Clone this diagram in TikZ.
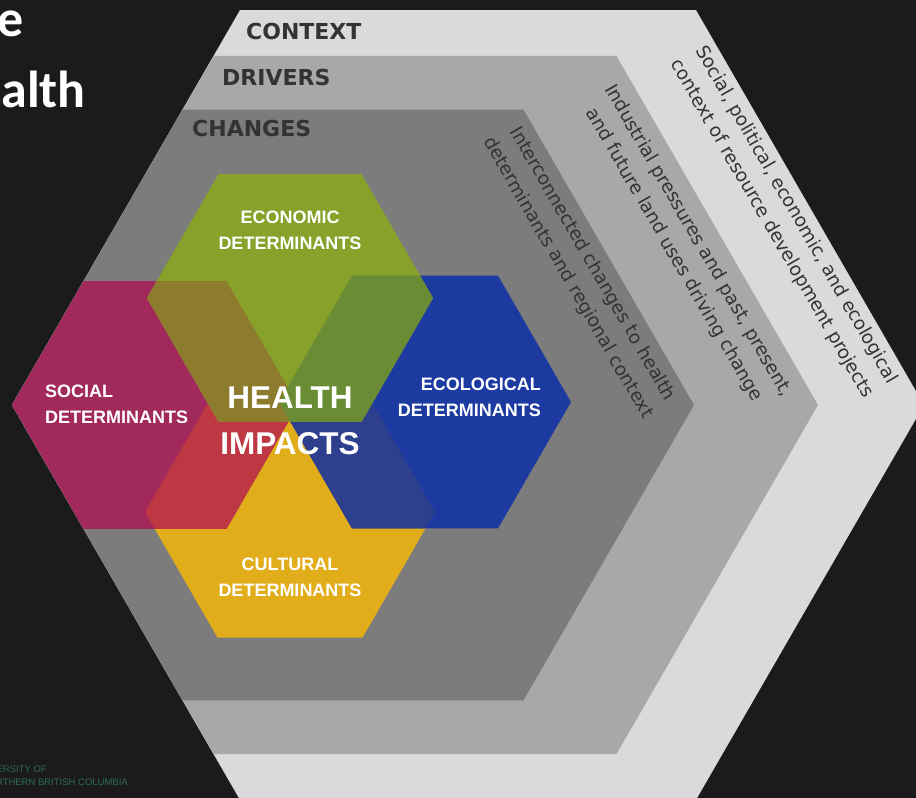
\documentclass[tikz,border=0pt]{standalone}
\usepackage{fontspec}
\setmainfont{DejaVu Sans}
\newfontfamily\hexfont{Liberation Sans}
\newfontfamily\titlefont{Carlito}
\definecolor{bgdark}{HTML}{1B1B1B}
\definecolor{ctxgray}{HTML}{DADADA}
\definecolor{drvgray}{HTML}{A8A8A8}
\definecolor{chggray}{HTML}{7C7C7C}
\definecolor{labelgray}{HTML}{333333}
\definecolor{socmag}{HTML}{A2295C}
\definecolor{econgreen}{HTML}{87A12A}
\definecolor{ecolblue}{HTML}{1D3AA0}
\definecolor{cultyellow}{HTML}{E2AD1A}
\definecolor{soceconmix}{HTML}{8E7C2E}
\definecolor{econecolmix}{HTML}{6A8C34}
\definecolor{soccultmix}{HTML}{BE3844}
\definecolor{ecolcultmix}{HTML}{2E3F8E}
\definecolor{unbcgreen}{HTML}{2D6B50}
\newcommand{\hexagon}[3]{(#1,#2) ++(0:#3) -- ++(120:#3) -- ++(180:#3) -- ++(240:#3) -- ++(300:#3) -- ++(0:#3) -- cycle}
\begin{document}
\begin{tikzpicture}[x=1pt,y=1pt,
    bandlabel/.style={font=\bfseries\fontsize{22}{26}\selectfont, text=labelgray, anchor=west},
    bandtext/.style={font=\fontsize{18.5}{28}\selectfont, text=labelgray, rotate=-60, align=center},
    hexlabel/.style={font=\hexfont\bfseries\fontsize{18}{26}\selectfont, text=white}]
    \tikzstyle{every node}+=[inner sep=0pt]
    \fill [bgdark] (0,0) rectangle (916,-798);
    \clip (0,0) rectangle (916,-798);
    \node [font=\titlefont\bfseries\fontsize{52}{60}\selectfont, text=white, anchor=base east] (titleA) at (24,-36) {e};
    \node [font=\titlefont\bfseries\fontsize{52}{60}\selectfont, text=white, anchor=base east] (titleB) at (86,-107) {alth};
    \node [font=\hexfont\fontsize{9.5}{11}\selectfont, text=unbcgreen, anchor=base east] (unbcA) at (47,-772) {UNIVERSITY OF};
    \node [font=\hexfont\fontsize{9.5}{11}\selectfont, text=unbcgreen, anchor=base east] (unbcB) at (128,-785) {NORTHERN BRITISH COLUMBIA};
    \fill [ctxgray] \hexagon{468}{-405}{456};
    \fill [drvgray] \hexagon{415}{-405}{403};
    \fill [chggray] \hexagon{353}{-405}{341};
    \node [bandlabel] (ctxlabel) at (246,-31) {CONTEXT};
    \node [bandlabel] (drvlabel) at (222,-77) {DRIVERS};
    \node [bandlabel] (chglabel) at (192,-128) {CHANGES};
    \node [bandtext] (ctxtext) at (784,-222) {Social, political, economic, and ecological\\context of resource development projects};
    \node [bandtext] (drvtext) at (686,-248) {Industrial pressures and past, present,\\and future land uses driving change};
    \node [bandtext] (chgtext) at (580,-271) {Interconnected changes to health\\determinants and regional context};
    \fill [cultyellow] \hexagon{290}{-512}{145};
    \fill [socmag] \hexagon{155}{-405}{143};
    \fill [ecolblue] \hexagon{425}{-402}{146};
    \begin{scope}
    \clip \hexagon{290}{-512}{145};
    \fill [soccultmix] \hexagon{155}{-405}{143};
    \fill [ecolcultmix] \hexagon{425}{-402}{146};
    \end{scope}
    \fill [econgreen] \hexagon{290}{-298}{143};
    \begin{scope}
    \clip \hexagon{290}{-298}{143};
    \fill [soceconmix] \hexagon{155}{-405}{143};
    \fill [econecolmix] \hexagon{425}{-402}{146};
    \end{scope}
    \node [hexlabel, align=center] (econlabel) at (290,-230) {ECONOMIC\\DETERMINANTS};
    \node [hexlabel, align=left, anchor=west] (soclabel) at (45,-404.5) {SOCIAL\\DETERMINANTS};
    \node [hexlabel, align=right, anchor=east] (ecollabel) at (541,-397) {ECOLOGICAL\\DETERMINANTS};
    \node [hexlabel, align=center] (cultlabel) at (290,-577) {CULTURAL\\DETERMINANTS};
    \node [font=\hexfont\bfseries\fontsize{31.5}{46}\selectfont, text=white, align=center] (health) at (290,-421) {HEALTH\\IMPACTS};
\end{tikzpicture}
\end{document}
